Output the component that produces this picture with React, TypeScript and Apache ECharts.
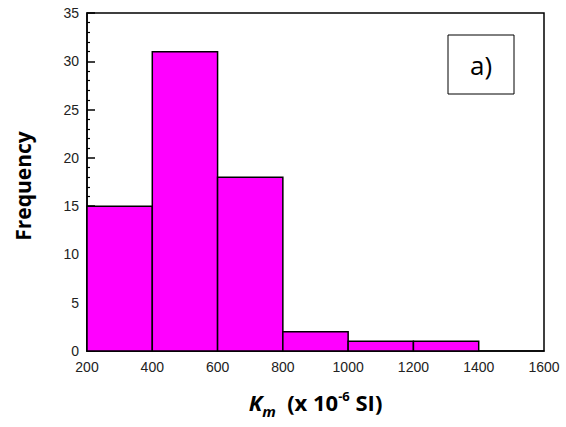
import React, { useEffect, useRef } from "react";
import * as echarts from "echarts";

const binEdges = [200, 400, 600, 800, 1000, 1200, 1400];
const counts = [15, 31, 18, 2, 1, 1];
const xTicks = [200, 1600, 200]; // min, max, interval
const yTicks = [0, 35, 5];
const panelLabel = "a)";
const yTitle = "Frequency";

export default function App() {
  const ref = useRef<HTMLDivElement>(null);
  useEffect(() => {
    if (!ref.current) return;
    const chart = echarts.init(ref.current, null, { renderer: "svg" });
    const data = counts.map((c, i) => [binEdges[i], binEdges[i + 1], c]);
    const bold = { fontWeight: "bold", fontFamily: "Open Sans", color: "#000", lineHeight: 28 };
    chart.setOption({
      animation: false,
      backgroundColor: "#fff",
      grid: {
        left: 87,
        right: 22,
        top: 13,
        bottom: 76,
        show: true,
        borderColor: "#000",
        borderWidth: 1.5,
        backgroundColor: "transparent",
      },
      xAxis: {
        type: "value",
        min: xTicks[0],
        max: xTicks[1],
        interval: xTicks[2],
        splitLine: { show: false },
        axisLine: { show: true, lineStyle: { color: "#000", width: 1.5 } },
        axisTick: { show: false },
        axisLabel: {
          color: "#222",
          fontSize: 14,
          fontFamily: "Liberation Sans",
          margin: 9,
          formatter: (v: number) => String(v),
        },
        name: "{k|K}{sub|m}{n|  (x 10}{sup|-6}{n| SI)}",
        nameLocation: "middle",
        nameGap: 37,
        nameTextStyle: {
          rich: {
            k: { ...bold, fontSize: 22, fontStyle: "italic", verticalAlign: "middle" },
            sub: { ...bold, fontSize: 15, fontStyle: "italic", verticalAlign: "bottom", padding: [0, 0, -2, 0] },
            n: { ...bold, fontSize: 22, verticalAlign: "middle" },
            sup: { ...bold, fontSize: 13, verticalAlign: "top", padding: [1, 0, 0, 0] },
          },
        },
      },
      yAxis: {
        type: "value",
        min: yTicks[0],
        max: yTicks[1],
        interval: yTicks[2],
        splitLine: { show: false },
        axisLine: { show: true, lineStyle: { color: "#000", width: 1.5 } },
        axisTick: { show: true, inside: true, length: 8, lineStyle: { color: "#000", width: 1.5 } },
        minorTick: { show: true, splitNumber: 5, length: 3, lineStyle: { color: "#000", width: 1.2 } },
        axisLabel: {
          color: "#222",
          fontSize: 14,
          fontFamily: "Liberation Sans",
          margin: 8,
        },
      },
      graphic: [
        {
          type: "text",
          x: 23,
          y: 186,
          rotation: Math.PI / 2,
          style: {
            text: yTitle,
            fontSize: 21,
            fontWeight: "bold",
            fontFamily: "Open Sans",
            fill: "#000",
            align: "center",
            verticalAlign: "middle",
          },
        },
        {
          type: "rect",
          shape: { x: 448, y: 35, width: 66, height: 59 },
          style: { fill: "#fff", stroke: "#000", lineWidth: 1 },
          z: 10,
        },
        {
          type: "text",
          x: 481,
          y: 65,
          style: {
            text: panelLabel,
            fontSize: 26,
            fontFamily: "Open Sans",
            fill: "#000",
            align: "center",
            verticalAlign: "middle",
          },
          z: 11,
        },
      ],
      series: [
        {
          type: "custom",
          data,
          encode: { x: [0, 1], y: 2 },
          renderItem: (params: any, api: any) => {
            const p0 = api.coord([api.value(0), api.value(2)]);
            const p1 = api.coord([api.value(1), 0]);
            return {
              type: "rect",
              shape: { x: p0[0], y: p0[1], width: p1[0] - p0[0], height: p1[1] - p0[1] },
              style: { fill: "#ff00ff", stroke: "#000", lineWidth: 1.5 },
            };
          },
        },
      ],
    });
    return () => chart.dispose();
  }, []);
  return (
    <div
      ref={ref}
      style={{ position: "fixed", left: 0, top: 0, width: 566, height: 427 }}
    />
  );
}
